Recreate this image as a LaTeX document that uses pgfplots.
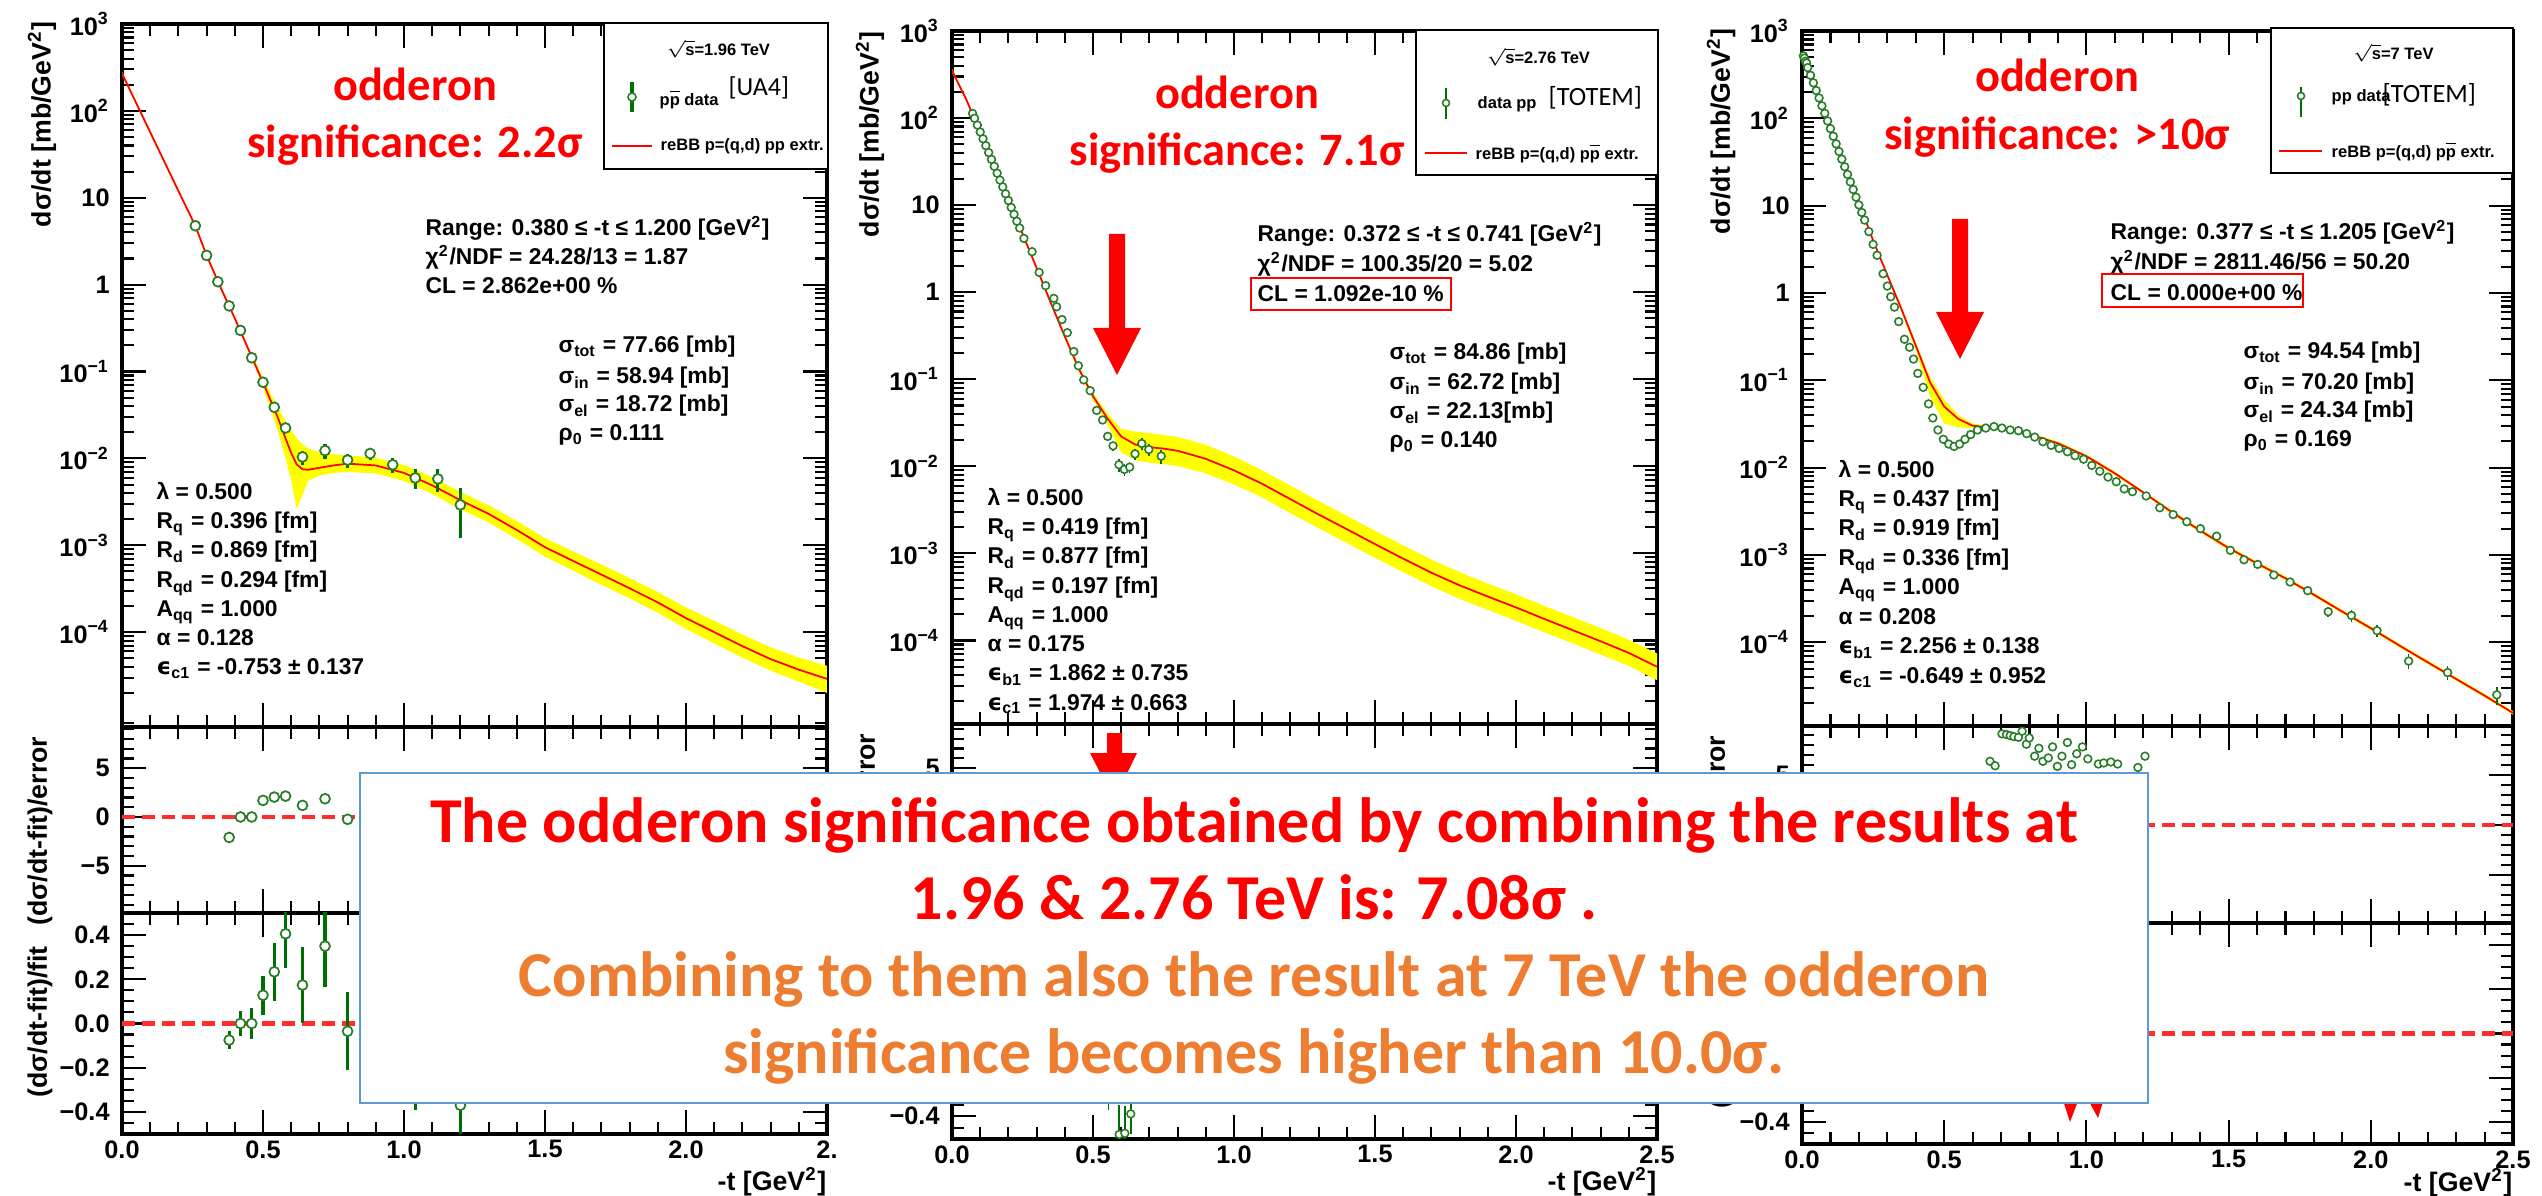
\documentclass[border=0pt]{standalone}
\usepackage{fontspec}
\setmainfont{Liberation Sans}
\newfontfamily\carlito{Carlito}
\newfontfamily\dejavu{DejaVu Sans}
\usepackage{pgfplots}
\pgfplotsset{compat=1.18}
\usepackage{pgfplotstable}

\definecolor{dgreen}{RGB}{40,125,40}
\definecolor{bgreen}{RGB}{0,110,0}
\definecolor{bandy}{RGB}{255,255,0}
\definecolor{dashred}{RGB}{255,45,45}
\definecolor{boxblue}{RGB}{91,155,213}
\definecolor{otxt}{RGB}{237,125,49}
\newcommand\fs[1]{\fontsize{#1}{#1}\selectfont}
\newcommand\pbar{$\overline{\mbox{p}}$}
\newcommand\eps{{\dejavu ϵ}}
\newcommand\tl{\fs{7.2}\bfseries}

% ---------------- fit curves
\pgfplotstableread{
t c
0.00 270
0.10 56.8
0.20 12.0
0.26 4.76
0.30 2.17
0.35 0.92
0.40 0.41
0.45 0.175
0.50 0.075
0.55 0.031
0.58 0.017
0.60 0.0115
0.62 0.0085
0.64 0.0075
0.66 0.0074
0.70 0.0078
0.75 0.0083
0.80 0.0087
0.90 0.0083
1.00 0.0068
1.10 0.0049
1.20 0.0033
1.30 0.0023
1.40 0.0015
1.50 0.00095
1.60 0.00066
1.70 0.00046
1.80 0.00032
1.90 0.00022
2.00 0.000145
2.10 0.000100
2.20 0.000069
2.30 0.000049
2.40 0.000037
2.50 0.000029
}\curveA
\pgfplotstableread{
t b
0.00 284
0.10 59.6
0.20 12.6
0.26 5.0
0.30 2.28
0.35 0.97
0.40 0.43
0.45 0.185
0.50 0.085
0.55 0.040
0.58 0.027
0.60 0.021
0.62 0.017
0.64 0.0145
0.66 0.013
0.70 0.0118
0.75 0.0112
0.80 0.0108
0.90 0.0102
1.00 0.0084
1.10 0.0061
1.20 0.0041
1.30 0.0029
1.40 0.0019
1.50 0.00121
1.60 0.00085
1.70 0.00060
1.80 0.00042
1.90 0.00029
2.00 0.000193
2.10 0.000135
2.20 0.000094
2.30 0.000067
2.40 0.000051
2.50 0.000041
2.50 0.000020
2.40 0.000027
2.30 0.000036
2.20 0.000051
2.10 0.000074
2.00 0.000109
1.90 0.000167
1.80 0.000245
1.70 0.00035
1.60 0.00051
1.50 0.00074
1.40 0.00118
1.30 0.00183
1.20 0.0026
1.10 0.0039
1.00 0.0055
0.90 0.0067
0.80 0.0070
0.75 0.0068
0.70 0.0064
0.66 0.0055
0.64 0.0038
0.62 0.0026
0.60 0.0055
0.58 0.010
0.55 0.022
0.50 0.066
0.45 0.165
0.40 0.39
0.35 0.87
0.30 2.06
0.26 4.52
0.20 11.4
0.10 54.0
0.00 257
}\bandA

\pgfplotstableread{
t c
0.00 350
0.05 165
0.10 69
0.15 28.3
0.20 11.5
0.25 4.7
0.30 1.9
0.35 0.76
0.40 0.31
0.45 0.132
0.50 0.064
0.55 0.036
0.60 0.022
0.65 0.0178
0.70 0.0166
0.75 0.0160
0.80 0.0151
0.90 0.0122
1.00 0.0090
1.10 0.0063
1.20 0.0042
1.30 0.0028
1.40 0.0019
1.50 0.00128
1.60 0.00087
1.70 0.00060
1.80 0.00043
1.90 0.00032
2.00 0.00024
2.10 0.000177
2.20 0.000132
2.30 0.000098
2.40 0.000072
2.50 0.000050
}\curveB
\pgfplotstableread{
t b
0.00 368
0.05 173
0.10 72
0.15 29.7
0.20 12.1
0.25 4.95
0.30 2.0
0.35 0.80
0.40 0.33
0.45 0.142
0.50 0.070
0.55 0.041
0.60 0.027
0.65 0.025
0.70 0.024
0.75 0.023
0.80 0.0218
0.90 0.0177
1.00 0.0130
1.10 0.0090
1.20 0.0060
1.30 0.0040
1.40 0.0027
1.50 0.00182
1.60 0.00124
1.70 0.00085
1.80 0.00061
1.90 0.00045
2.00 0.00034
2.10 0.00025
2.20 0.000187
2.30 0.000139
2.40 0.000102
2.50 0.000071
2.50 0.000035
2.40 0.000051
2.30 0.000069
2.20 0.000093
2.10 0.000124
2.00 0.000168
1.90 0.000225
1.80 0.00030
1.70 0.00042
1.60 0.00061
1.50 0.00089
1.40 0.00132
1.30 0.00195
1.20 0.0029
1.10 0.0044
1.00 0.0062
0.90 0.0083
0.80 0.0101
0.75 0.0106
0.70 0.0110
0.65 0.0118
0.60 0.0145
0.55 0.031
0.50 0.058
0.45 0.122
0.40 0.29
0.35 0.72
0.30 1.8
0.25 4.45
0.20 10.9
0.15 26.9
0.10 66
0.05 157
0.00 333
}\bandB

\pgfplotstableread{
t c
0.00 460
0.05 200
0.10 76
0.15 28.5
0.20 10.8
0.25 4.0
0.30 1.6
0.35 0.65
0.40 0.25
0.45 0.095
0.50 0.050
0.55 0.036
0.60 0.0302
0.65 0.0290
0.70 0.0278
0.75 0.0265
0.80 0.0240
0.90 0.0190
1.00 0.0135
1.10 0.0086
1.20 0.0052
1.30 0.0031
1.40 0.00190
1.50 0.00120
1.60 0.00080
1.70 0.00054
1.80 0.00035
1.90 0.000224
2.00 0.000145
2.10 0.000092
2.20 0.000059
2.30 0.000038
2.40 0.0000245
2.50 0.0000155
}\curveC
\pgfplotstableread{
t b
0.00 480
0.05 208
0.10 79
0.15 29.7
0.20 11.3
0.25 4.2
0.30 1.68
0.35 0.68
0.40 0.27
0.45 0.110
0.50 0.060
0.55 0.040
0.60 0.032
0.65 0.0302
0.70 0.0290
0.75 0.0277
0.80 0.0251
0.90 0.0199
1.00 0.0141
1.10 0.0090
1.20 0.0054
1.30 0.00325
1.40 0.00199
1.50 0.00126
1.60 0.00084
1.70 0.000567
1.80 0.000368
1.90 0.000235
2.00 0.000152
2.10 0.0000966
2.20 0.000062
2.30 0.0000399
2.40 0.0000257
2.50 0.0000163
2.50 0.0000148
2.40 0.0000234
2.30 0.0000363
2.20 0.0000563
2.10 0.0000878
2.00 0.000138
1.90 0.000214
1.80 0.000334
1.70 0.000515
1.60 0.00076
1.50 0.00114
1.40 0.00181
1.30 0.00296
1.20 0.0050
1.10 0.0082
1.00 0.0129
0.90 0.0182
0.80 0.0230
0.75 0.0255
0.70 0.0268
0.65 0.0280
0.60 0.0282
0.55 0.029
0.50 0.032
0.45 0.066
0.40 0.22
0.35 0.60
0.30 1.52
0.25 3.8
0.20 10.3
0.15 27.3
0.10 73
0.05 192
0.00 440
}\bandC

% ---------------- data
\pgfplotstableread{
t y e
0.26 4.76 0.15
0.30 2.17 0.07
0.34 1.08 0.04
0.38 0.569 0.02
0.42 0.297 0.012
0.46 0.144 0.007
0.50 0.0752 0.004
0.54 0.0388 0.0025
0.58 0.0224 0.003
0.64 0.0104 0.0019
0.72 0.0123 0.0024
0.80 0.00957 0.0018
0.88 0.0114 0.0019
0.96 0.00845 0.0017
1.04 0.00596 0.0015
1.12 0.00581 0.0017
1.20 0.00292 0.0017
}\dataA

\pgfplotstableread{
t r
0.38 -2.1
0.42 0
0.46 0
0.50 1.7
0.54 2.04
0.58 2.14
0.64 1.19
0.72 1.87
0.80 -0.24
}\resA

\pgfplotstableread{
t v e
0.38 -0.075 0.042
0.42 0.0 0.057
0.46 0.0 0.069
0.50 0.128 0.088
0.54 0.234 0.132
0.58 0.406 0.156
0.64 0.174 0.17
0.72 0.35 0.185
0.80 -0.035 0.177
1.04 -0.15 0.24
1.20 -0.37 0.40
}\fitA

\pgfplotstableread{
t y e
0.073 113 4
0.08 99.5 3.5
0.09 83.0 3
0.10 69.2 2.5
0.11 57.8 2
0.12 48.2 1.7
0.13 40.2 1.4
0.14 33.5 1.2
0.15 27.9 1
0.16 23.3 0.8
0.17 19.4 0.7
0.18 16.2 0.6
0.19 13.5 0.5
0.20 11.3 0.4
0.21 9.40 0.35
0.22 7.85 0.3
0.23 6.54 0.25
0.24 5.46 0.2
0.255 4.15 0.15
0.284 2.92 0.1
0.309 1.69 0.06
0.332 1.19 0.05
0.361 0.85 0.035
0.371 0.68 0.03
0.39 0.485 0.02
0.409 0.343 0.015
0.432 0.208 0.01
0.448 0.143 0.007
0.467 0.0985 0.005
0.49 0.074 0.004
0.513 0.0439 0.003
0.534 0.0341 0.0025
0.552 0.0221 0.002
0.571 0.0172 0.002
0.592 0.01045 0.0018
0.611 0.00923 0.0015
0.630 0.0098 0.0015
0.649 0.0139 0.002
0.673 0.0183 0.003
0.698 0.0156 0.0025
0.742 0.0131 0.0025
}\dataB

\pgfplotstableread{
t v e
0.555 -0.30 0.075
0.593 -0.48 0.13
0.613 -0.475 0.12
0.634 -0.39 0.09
}\fitB

\pgfplotstableread{
t y e
0.005 520 10
0.008 490 10
0.012 450 9
0.016 430 9
0.02 381 8
0.03 311 6
0.04 255 5
0.05 208 4
0.06 171 3.5
0.07 139 3
0.08 114 2.5
0.09 93.3 2
0.10 76.2 1.6
0.11 62.4 1.3
0.12 51.0 1.1
0.13 41.7 0.9
0.14 34.1 0.7
0.15 27.9 0.6
0.16 22.8 0.5
0.17 18.7 0.4
0.18 15.3 0.3
0.19 12.5 0.25
0.20 10.2 0.2
0.21 8.36 0.17
0.22 6.84 0.14
0.235 5.04 0.1
0.25 3.6 0.08
0.264 2.7 0.06
0.285 1.66 0.04
0.30 1.2 0.03
0.312 0.906 0.02
0.325 0.689 0.015
0.34 0.47 0.01
0.36 0.295 0.007
0.378 0.239 0.006
0.392 0.175 0.005
0.407 0.12 0.003
0.426 0.083 0.002
0.445 0.0537 0.0015
0.46 0.037 0.001
0.478 0.027 0.0008
0.497 0.0211 0.0006
0.516 0.0186 0.0005
0.535 0.0175 0.0005
0.554 0.0186 0.0005
0.573 0.0211 0.0006
0.593 0.0239 0.0007
0.617 0.027 0.0008
0.646 0.0284 0.0008
0.675 0.0295 0.0009
0.703 0.0284 0.0009
0.732 0.027 0.0008
0.761 0.0265 0.0008
0.79 0.0245 0.0007
0.818 0.0224 0.0007
0.847 0.0198 0.0006
0.876 0.018 0.0006
0.904 0.0166 0.0005
0.933 0.0152 0.0005
0.96 0.0137 0.0004
0.99 0.0125 0.0004
1.019 0.0106 0.0003
1.047 0.0091 0.0003
1.076 0.0078 0.0003
1.105 0.0069 0.0003
1.133 0.00571 0.0002
1.162 0.0053 0.0002
1.21 0.00474 0.0002
1.258 0.00347 0.00015
1.305 0.0029 0.00012
1.353 0.0024 0.0001
1.401 0.0020 0.0001
1.458 0.00164 0.00008
1.506 0.00113 0.00006
1.554 0.00088 0.00005
1.602 0.00078 0.00005
1.659 0.00059 0.00004
1.716 0.00049 0.00004
1.778 0.00039 0.00003
1.85 0.000224 0.00003
1.932 0.000203 0.00003
2.022 0.000136 0.00002
2.133 0.000061 0.000012
2.27 0.000045 0.000008
2.443 0.000025 0.000006
}\dataC

\pgfplotstableread{
t r
0.661 6.37
0.679 5.92
0.703 9.11
0.719 9.04
0.732 8.94
0.745 8.84
0.761 8.77
0.774 9.38
0.789 8.08
0.799 8.70
0.818 6.88
0.833 7.67
0.847 6.37
0.866 6.71
0.881 7.81
0.898 5.86
0.914 6.88
0.933 8.25
0.948 6.03
0.966 7.12
0.986 7.81
1.005 6.61
1.042 6.10
1.061 6.20
1.086 6.30
1.110 6.10
1.181 5.75
1.206 6.88
}\resC

\begin{document}
\begin{tikzpicture}
\path[use as bounding box] (0,0) rectangle (254.2mm,-119.6mm);

% ================= Panel 1 =================
\begin{axis}[ymode=log, scale only axis, anchor=north west, at={(12.2mm,-2.4mm)}, width=70.5mm, height=70.3mm,
  xmin=0, xmax=2.5, ymin=8.1e-6, ymax=1000,
  axis line style={line width=1pt}, tick align=inside, tick style={line width=0.6pt, black},
  major tick length=2.4mm, minor tick length=1.2mm,
  xtick={0,0.5,1,1.5,2,2.5}, minor x tick num=4, xticklabels={},
  ytick={1e-4,1e-3,1e-2,1e-1,1,10,100,1000},
  yticklabels={10\textsuperscript{−4},10\textsuperscript{−3},10\textsuperscript{−2},10\textsuperscript{−1},1,10,10\textsuperscript{2},10\textsuperscript{3}},
  yticklabel style={font=\tl},
  minor ytick={9e-6,2e-5,3e-5,4e-5,5e-5,6e-5,7e-5,8e-5,9e-5,2e-4,3e-4,4e-4,5e-4,6e-4,7e-4,8e-4,9e-4,2e-3,3e-3,4e-3,5e-3,6e-3,7e-3,8e-3,9e-3,0.02,0.03,0.04,0.05,0.06,0.07,0.08,0.09,0.2,0.3,0.4,0.5,0.6,0.7,0.8,0.9,2,3,4,5,6,7,8,9,20,30,40,50,60,70,80,90,200,300,400,500,600,700,800,900}]
\addplot[fill=bandy, draw=none] table[x=t,y=b]{\bandA};
\addplot[red, line width=0.5pt] table[x=t,y=c]{\curveA};
\addplot[only marks, mark=*, mark size=1.4pt, mark options={draw=dgreen, fill=white, line width=0.5pt},
  error bars/y dir=both, error bars/y explicit, error bars/error mark=none,
  error bars/error bar style={bgreen, line width=0.9pt}] table[x=t,y=y,y error=e]{\dataA};
\end{axis}
\begin{axis}[scale only axis, anchor=north west, at={(12.2mm,-72.7mm)}, width=70.5mm, height=18.6mm,
  xmin=0, xmax=2.5, ymin=-9.85, ymax=9.23,
  axis line style={line width=1pt}, tick align=inside, tick style={line width=0.6pt, black},
  major tick length=2.4mm, minor tick length=1.2mm,
  xtick={0,0.5,1,1.5,2,2.5}, minor x tick num=4, xticklabels={},
  ytick={-5,0,5}, yticklabels={−5,0,5}, yticklabel style={font=\tl},
  minor ytick={-9,-8,-7,-6,-4,-3,-2,-1,1,2,3,4,6,7,8,9}]
\addplot[dashred, line width=1.4pt, dash pattern=on 1.3mm off 0.7mm] coordinates {(0,0) (2.5,0)};
\addplot[only marks, mark=*, mark size=1.4pt, mark options={draw=dgreen, fill=white, line width=0.5pt}] table[x=t,y=r]{\resA};
\end{axis}
\begin{axis}[scale only axis, anchor=north west, at={(12.2mm,-91.3mm)}, width=70.5mm, height=22.1mm,
  xmin=0, xmax=2.5, ymin=-0.5, ymax=0.5,
  axis line style={line width=1pt}, tick align=inside, tick style={line width=0.6pt, black},
  major tick length=2.4mm, minor tick length=1.2mm,
  xtick={0,0.5,1,1.5,2,2.5}, minor x tick num=4, xticklabels={0.0,0.5,1.0,1.5,2.0,2.},
  ytick={-0.4,-0.2,0,0.2,0.4}, yticklabels={−0.4,−0.2,0.0,0.2,0.4},
  ticklabel style={font=\tl}, xticklabel style={yshift=0.6mm},
  minor ytick={-0.45,-0.35,-0.3,-0.25,-0.15,-0.1,-0.05,0.05,0.1,0.15,0.25,0.3,0.35,0.45}]
\addplot[dashred, line width=1.4pt, dash pattern=on 1.3mm off 0.7mm] coordinates {(0,0) (2.5,0)};
\addplot[only marks, mark=*, mark size=1.4pt, mark options={draw=dgreen, fill=white, line width=0.5pt},
  error bars/y dir=both, error bars/y explicit, error bars/error mark=none,
  error bars/error bar style={bgreen, line width=0.9pt}] table[x=t,y=v,y error=e]{\fitA};
\end{axis}

% ================= Panel 2 =================
\begin{axis}[ymode=log, scale only axis, anchor=north west, at={(95.2mm,-3.1mm)}, width=70.5mm, height=69.3mm,
  xmin=0, xmax=2.5, ymin=1.1e-5, ymax=1000,
  axis line style={line width=1pt}, tick align=inside, tick style={line width=0.6pt, black},
  major tick length=2.4mm, minor tick length=1.2mm,
  xtick={0,0.5,1,1.5,2,2.5}, minor x tick num=4, xticklabels={},
  ytick={1e-4,1e-3,1e-2,1e-1,1,10,100,1000},
  yticklabels={10\textsuperscript{−4},10\textsuperscript{−3},10\textsuperscript{−2},10\textsuperscript{−1},1,10,10\textsuperscript{2},10\textsuperscript{3}},
  yticklabel style={font=\tl},
  minor ytick={2e-5,3e-5,4e-5,5e-5,6e-5,7e-5,8e-5,9e-5,2e-4,3e-4,4e-4,5e-4,6e-4,7e-4,8e-4,9e-4,2e-3,3e-3,4e-3,5e-3,6e-3,7e-3,8e-3,9e-3,0.02,0.03,0.04,0.05,0.06,0.07,0.08,0.09,0.2,0.3,0.4,0.5,0.6,0.7,0.8,0.9,2,3,4,5,6,7,8,9,20,30,40,50,60,70,80,90,200,300,400,500,600,700,800,900}]
\addplot[fill=bandy, draw=none] table[x=t,y=b]{\bandB};
\addplot[red, line width=0.5pt] table[x=t,y=c]{\curveB};
\addplot[only marks, mark=*, mark size=1.1pt, mark options={draw=dgreen, fill=white, line width=0.45pt},
  error bars/y dir=both, error bars/y explicit, error bars/error mark=none,
  error bars/error bar style={bgreen, line width=0.45pt}] table[x=t,y=y,y error=e]{\dataB};
\end{axis}
\begin{axis}[scale only axis, anchor=north west, at={(95.2mm,-72.4mm)}, width=70.5mm, height=18.7mm,
  xmin=0, xmax=2.5, ymin=-9.6, ymax=9.5,
  axis line style={line width=1pt}, tick align=inside, tick style={line width=0.6pt, black},
  major tick length=2.4mm, minor tick length=1.2mm,
  xtick={0,0.5,1,1.5,2,2.5}, minor x tick num=4, xticklabels={},
  ytick={-5,0,5}, yticklabels={{},{},5}, yticklabel style={font=\tl},
  minor ytick={-9,-8,-7,-6,-4,-3,-2,-1,1,2,3,4,6,7,8,9}]
\addplot[dashred, line width=1.4pt, dash pattern=on 1.3mm off 0.7mm] coordinates {(0,0) (2.5,0)};
\end{axis}
\begin{axis}[scale only axis, anchor=north west, at={(95.2mm,-91.1mm)}, width=70.5mm, height=22.8mm,
  xmin=0, xmax=2.5, ymin=-0.5, ymax=0.5,
  axis line style={line width=1pt}, tick align=inside, tick style={line width=0.6pt, black},
  major tick length=2.4mm, minor tick length=1.2mm,
  xtick={0,0.5,1,1.5,2,2.5}, minor x tick num=4, xticklabels={0.0,0.5,1.0,1.5,2.0,2.5},
  ytick={-0.4,-0.2,0,0.2,0.4}, yticklabels={−0.4,{},{},{},{}},
  ticklabel style={font=\tl}, xticklabel style={yshift=0.6mm},
  minor ytick={-0.45,-0.35,-0.3,-0.25,-0.15,-0.1,-0.05,0.05,0.1,0.15,0.25,0.3,0.35,0.45}]
\addplot[dashred, line width=1.4pt, dash pattern=on 1.3mm off 0.7mm] coordinates {(0,0) (2.5,0)};
\addplot[only marks, mark=*, mark size=1.1pt, mark options={draw=dgreen, fill=white, line width=0.45pt},
  error bars/y dir=both, error bars/y explicit, error bars/error mark=none,
  error bars/error bar style={bgreen, line width=0.45pt}] table[x=t,y=v,y error=e]{\fitB};
\end{axis}

% ================= Panel 3 =================
\begin{axis}[ymode=log, scale only axis, anchor=north west, at={(180.2mm,-3.1mm)}, width=71.1mm, height=69.5mm,
  xmin=0, xmax=2.5, ymin=1.1e-5, ymax=1000,
  axis line style={line width=1pt}, tick align=inside, tick style={line width=0.6pt, black},
  major tick length=2.4mm, minor tick length=1.2mm,
  xtick={0,0.5,1,1.5,2,2.5}, minor x tick num=4, xticklabels={},
  ytick={1e-4,1e-3,1e-2,1e-1,1,10,100,1000},
  yticklabels={10\textsuperscript{−4},10\textsuperscript{−3},10\textsuperscript{−2},10\textsuperscript{−1},1,10,10\textsuperscript{2},10\textsuperscript{3}},
  yticklabel style={font=\tl},
  minor ytick={2e-5,3e-5,4e-5,5e-5,6e-5,7e-5,8e-5,9e-5,2e-4,3e-4,4e-4,5e-4,6e-4,7e-4,8e-4,9e-4,2e-3,3e-3,4e-3,5e-3,6e-3,7e-3,8e-3,9e-3,0.02,0.03,0.04,0.05,0.06,0.07,0.08,0.09,0.2,0.3,0.4,0.5,0.6,0.7,0.8,0.9,2,3,4,5,6,7,8,9,20,30,40,50,60,70,80,90,200,300,400,500,600,700,800,900}]
\addplot[fill=bandy, draw=none] table[x=t,y=b]{\bandC};
\addplot[red, line width=0.5pt] table[x=t,y=c]{\curveC};
\addplot[only marks, mark=*, mark size=1.1pt, mark options={draw=dgreen, fill=white, line width=0.45pt},
  error bars/y dir=both, error bars/y explicit, error bars/error mark=none,
  error bars/error bar style={bgreen, line width=0.45pt}] table[x=t,y=y,y error=e]{\dataC};
\end{axis}
\begin{axis}[scale only axis, anchor=north west, at={(180.2mm,-72.6mm)}, width=71.1mm, height=19.7mm,
  xmin=0, xmax=2.5, ymin=-9.8, ymax=9.9,
  axis line style={line width=1pt}, tick align=inside, tick style={line width=0.6pt, black},
  major tick length=2.4mm, minor tick length=1.2mm,
  xtick={0,0.5,1,1.5,2,2.5}, minor x tick num=4, xticklabels={},
  ytick={-5,0,5}, yticklabels={{},{},5}, yticklabel style={font=\tl},
  minor ytick={-9,-8,-7,-6,-4,-3,-2,-1,1,2,3,4,6,7,8,9}]
\addplot[dashred, line width=1.4pt, dash pattern=on 1.3mm off 0.7mm] coordinates {(0,0) (2.5,0)};
\addplot[only marks, mark=*, mark size=1.1pt, mark options={draw=dgreen, fill=white, line width=0.45pt}] table[x=t,y=r]{\resC};
\end{axis}
\begin{axis}[scale only axis, anchor=north west, at={(180.2mm,-92.3mm)}, width=71.1mm, height=22.1mm,
  xmin=0, xmax=2.5, ymin=-0.5, ymax=0.5,
  axis line style={line width=1pt}, tick align=inside, tick style={line width=0.6pt, black},
  major tick length=2.4mm, minor tick length=1.2mm,
  xtick={0,0.5,1,1.5,2,2.5}, minor x tick num=4, xticklabels={0.0,0.5,1.0,1.5,2.0,2.5},
  ytick={-0.4,-0.2,0,0.2,0.4}, yticklabels={−0.4,{},{},{},{}},
  ticklabel style={font=\tl}, xticklabel style={yshift=0.6mm},
  minor ytick={-0.45,-0.35,-0.3,-0.25,-0.15,-0.1,-0.05,0.05,0.1,0.15,0.25,0.3,0.35,0.45}]
\addplot[dashred, line width=1.4pt, dash pattern=on 1.3mm off 0.7mm] coordinates {(0,0) (2.5,0)};
\end{axis}

% ================= annotations (pixel units) =================
\begin{scope}[x=0.1mm,y=-0.1mm,
  st/.style={anchor=base west, inner sep=0pt, font=\fs{6.5}\bfseries},
  lg/.style={inner sep=0pt, font=\fs{4.7}\bfseries},
  ttl/.style={inner sep=0pt, font=\fs{7.6}\bfseries},
  odd/.style={anchor=base, inner sep=0pt, text=red, font=\carlito\bfseries\fs{13.2}}]

\node[ttl, rotate=90, anchor=east] at (42,21) {dσ/dt [mb/GeV\textsuperscript{2}]};
\node[ttl, rotate=90, anchor=east] at (40,736) {(dσ/dt-fit)/error};
\node[ttl, rotate=90] at (40,1022) {(dσ/dt-fit)/fit};
\node[ttl, anchor=east] at (827,1182) {-t [GeV\textsuperscript{2}]};
\node[ttl, rotate=90, anchor=east] at (870,31) {dσ/dt [mb/GeV\textsuperscript{2}]};
\node[ttl, rotate=90, anchor=east] at (868,733) {(dσ/dt-fit)/error};
\node[ttl, anchor=east] at (1657,1182) {-t [GeV\textsuperscript{2}]};
\node[ttl, rotate=90, anchor=east] at (1721,28) {dσ/dt [mb/GeV\textsuperscript{2}]};
\node[ttl, rotate=90, anchor=east] at (1718,735) {(dσ/dt-fit)/error};
\node[ttl, rotate=90] at (1722,1033) {(dσ/dt-fit)/fit};
\node[ttl, anchor=east] at (2513,1183) {-t [GeV\textsuperscript{2}]};

% ---- Panel 1 legend
\draw[line width=0.6pt, fill=white] (604,23) rectangle (828,169);
\node[lg] at (718,49) {$\sqrt{\mbox{s}}$=1.96 TeV};
\draw[bgreen, line width=1pt] (632,82)--(632,112);
\draw[dgreen, fill=white, line width=0.45pt] (632,97) circle (4);
\node[lg, anchor=west] at (659,99) {p\pbar\ data};
\node[anchor=west, inner sep=0pt, font=\carlito\fs{7.4}] at (728,88) {[UA4]};
\draw[red, line width=0.5pt] (612,146)--(652,146);
\node[lg, anchor=west] at (660,146) {reBB p=(q,d) pp extr.};

% ---- Panel 1 texts
\node[odd] at (415,101) {odderon};
\node[odd] at (415,158) {significance: 2.2σ};
\node[st] at (425,236) {Range: 0.380 ≤ -t ≤ 1.200 [GeV\textsuperscript{2}]};
\node[st] at (425,265) {χ\textsuperscript{2}/NDF = 24.28/13 = 1.87};
\node[st] at (425,294) {CL = 2.862e+00 \%};
\node[st] at (558,353) {σ\textsubscript{tot} = 77.66 [mb]};
\node[st] at (558,384) {σ\textsubscript{in} = 58.94 [mb]};
\node[st] at (558,412) {σ\textsubscript{el} = 18.72 [mb]};
\node[st] at (558,441) {ρ\textsubscript{0} = 0.111};
\node[st] at (156,500) {λ = 0.500};
\node[st] at (156,529) {R\textsubscript{q} = 0.396 [fm]};
\node[st] at (156,558) {R\textsubscript{d} = 0.869 [fm]};
\node[st] at (156,588) {R\textsubscript{qd} = 0.294 [fm]};
\node[st] at (156,617) {A\textsubscript{qq} = 1.000};
\node[st] at (156,646) {α = 0.128};
\node[st] at (156,675) {\eps\textsubscript{c1} = -0.753 ± 0.137};

% ---- Panel 2 legend
\draw[line width=0.6pt, fill=white] (1416,30) rectangle (1658,175);
\node[lg] at (1538,57) {$\sqrt{\mbox{s}}$=2.76 TeV};
\draw[bgreen, line width=0.5pt] (1446,88)--(1446,119);
\draw[dgreen, fill=white, line width=0.45pt] (1446,103) circle (3.5);
\node[lg, anchor=west] at (1477,104) {data pp};
\node[anchor=west, inner sep=0pt, font=\carlito\fs{7.5}] at (1548,98) {[TOTEM]};
\draw[red, line width=0.5pt] (1425,153)--(1467,153);
\node[lg, anchor=west] at (1475,153) {reBB p=(q,d) p\pbar\ extr.};

% ---- Panel 2 texts
\node[odd] at (1237,109) {odderon};
\node[odd] at (1237,166) {significance: 7.1σ};
\node[st] at (1257,242) {Range: 0.372 ≤ -t ≤ 0.741 [GeV\textsuperscript{2}]};
\node[st] at (1257,272) {χ\textsuperscript{2}/NDF = 100.35/20 = 5.02};
\node[st] at (1257,302) {CL = 1.092e-10 \%};
\draw[red, line width=0.8pt] (1251,278) rectangle (1451,310);
\node[st] at (1389,360) {σ\textsubscript{tot} = 84.86 [mb]};
\node[st] at (1389,390) {σ\textsubscript{in} = 62.72 [mb]};
\node[st] at (1389,419) {σ\textsubscript{el} = 22.13[mb]};
\node[st] at (1389,448) {ρ\textsubscript{0} = 0.140};
\node[st] at (987,506) {λ = 0.500};
\node[st] at (987,535) {R\textsubscript{q} = 0.419 [fm]};
\node[st] at (987,564) {R\textsubscript{d} = 0.877 [fm]};
\node[st] at (987,594) {R\textsubscript{qd} = 0.197 [fm]};
\node[st] at (987,623) {A\textsubscript{qq} = 1.000};
\node[st] at (987,652) {α = 0.175};
\node[st] at (987,681) {\eps\textsubscript{b1} = 1.862 ± 0.735};
\node[st] at (987,710) {\eps\textsubscript{c1} = 1.974 ± 0.663};
\fill[red] (1109,234) -- (1125,234) -- (1125,328) -- (1141,328) -- (1117,375) -- (1093,328) -- (1109,328) -- cycle;
\fill[red] (1107,733) -- (1122,733) -- (1122,753) -- (1137,753) -- (1114,800) -- (1090,753) -- (1107,753) -- cycle;

% ---- Panel 3 legend
\draw[line width=0.6pt, fill=white] (2271,28) rectangle (2513,173);
\node[lg] at (2393,53) {$\sqrt{\mbox{s}}$=7 TeV};
\draw[bgreen, line width=0.5pt] (2301,87)--(2301,117);
\draw[dgreen, fill=white, line width=0.45pt] (2301,96) circle (3.5);
\node[lg, anchor=west] at (2331,97) {pp data};
\node[anchor=west, inner sep=0pt, font=\carlito\fs{7.5}] at (2382,95) {[TOTEM]};
\draw[red, line width=0.5pt] (2279,151)--(2322,151);
\node[lg, anchor=west] at (2331,151) {reBB p=(q,d) p\pbar\ extr.};

% ---- Panel 3 texts
\node[odd] at (2057,92) {odderon};
\node[odd] at (2057,150) {significance: >10σ};
\node[st] at (2110,240) {Range: 0.377 ≤ -t ≤ 1.205 [GeV\textsuperscript{2}]};
\node[st] at (2110,270) {χ\textsuperscript{2}/NDF = 2811.46/56 = 50.20};
\node[st] at (2110,301) {CL = 0.000e+00 \%};
\draw[red, line width=0.8pt] (2102,274) rectangle (2303,307);
\node[st] at (2243,359) {σ\textsubscript{tot} = 94.54 [mb]};
\node[st] at (2243,390) {σ\textsubscript{in} = 70.20 [mb]};
\node[st] at (2243,418) {σ\textsubscript{el} = 24.34 [mb]};
\node[st] at (2243,447) {ρ\textsubscript{0} = 0.169};
\node[st] at (1838,478) {λ = 0.500};
\node[st] at (1838,507) {R\textsubscript{q} = 0.437 [fm]};
\node[st] at (1838,536) {R\textsubscript{d} = 0.919 [fm]};
\node[st] at (1838,566) {R\textsubscript{qd} = 0.336 [fm]};
\node[st] at (1838,595) {A\textsubscript{qq} = 1.000};
\node[st] at (1838,625) {α = 0.208};
\node[st] at (1838,654) {\eps\textsubscript{b1} = 2.256 ± 0.138};
\node[st] at (1838,684) {\eps\textsubscript{c1} = -0.649 ± 0.952};
\fill[red] (1952,219) -- (1968,219) -- (1968,312) -- (1984,312) -- (1960,359) -- (1936,312) -- (1952,312) -- cycle;
\fill[red] (2058,1085) -- (2084,1085) -- (2070,1122) -- cycle;
\fill[red] (2080,1085) -- (2108,1085) -- (2098,1118) -- cycle;

% ---- overlay box
\draw[boxblue, line width=0.6pt, fill=white] (360,773) rectangle (2148,1103);
\node[anchor=base, inner sep=0pt, text=red, font=\carlito\bfseries\fs{18.2}] at (1254,842) {The odderon significance obtained by combining the results at};
\node[anchor=base, inner sep=0pt, text=red, font=\carlito\bfseries\fs{18.2}] at (1254,919) {1.96 \& 2.76 TeV is: 7.08σ .};
\node[anchor=base, inner sep=0pt, text=otxt, font=\carlito\bfseries\fs{18.2}] at (1254,996) {Combining to them also the result at 7 TeV the odderon};
\node[anchor=base, inner sep=0pt, text=otxt, font=\carlito\bfseries\fs{18.2}] at (1254,1073) {significance becomes higher than 10.0σ.};
\end{scope}
\end{tikzpicture}
\end{document}
